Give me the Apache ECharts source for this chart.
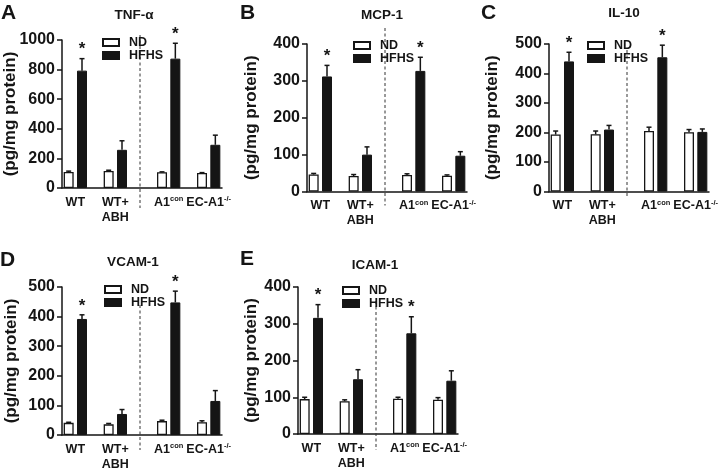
<!DOCTYPE html>
<html><head><meta charset="utf-8">
<script src="https://cdn.jsdelivr.net/npm/echarts@6/dist/echarts.min.js"></script>
<style>html,body{margin:0;padding:0;background:#fff}#c{width:724px;height:473px}</style>
</head><body><div id="c"></div>
<script>
// ---------- data ----------
const groupLabels = ['WT', 'WT+\nABH', 'A1{sup|con}', 'EC-A1{sup|-/-}'];
const seriesNames = ['ND', 'HFHS'];
const panelLetters = ['A', 'B', 'C', 'D', 'E'];
const panelTitles = ['TNF-α', 'MCP-1', 'IL-10', 'VCAM-1', 'ICAM-1'];
const yAxisName = '(pg/mg protein)';
const yMax = [1000, 400, 500, 500, 400];
const yStep = [200, 100, 100, 100, 100];

const tnfND = [108, 115, 106, 101];    const tnfNDErr = [6, 5, 3, 3];
const tnfHFHS = [793, 258, 874, 292];  const tnfHFHSErr = [81, 61, 104, 65];
const mcpND = [46, 42, 45, 43];        const mcpNDErr = [3, 4, 3, 2];
const mcpHFHS = [312, 100, 327, 97];   const mcpHFHSErr = [30, 21, 37, 11];
const il10ND = [193, 194, 205, 201];   const il10NDErr = [12, 11, 13, 9];
const il10HFHS = [441, 210, 455, 202]; const il10HFHSErr = [31, 14, 41, 10];
const vcamND = [41, 36, 47, 43];       const vcamNDErr = [2, 3, 3, 5];
const vcamHFHS = [392, 71, 448, 115];  const vcamHFHSErr = [14, 15, 38, 35];
const icamND = [95, 89, 96, 93];       const icamNDErr = [5, 4, 4, 6];
const icamHFHS = [316, 149, 274, 145]; const icamHFHSErr = [36, 26, 45, 27];
const significant = [true, false, true, false]; // HFHS * per group

const panelData = [
  [tnfND, tnfNDErr, tnfHFHS, tnfHFHSErr],
  [mcpND, mcpNDErr, mcpHFHS, mcpHFHSErr],
  [il10ND, il10NDErr, il10HFHS, il10HFHSErr],
  [vcamND, vcamNDErr, vcamHFHS, vcamHFHSErr],
  [icamND, icamNDErr, icamHFHS, icamHFHSErr]
];

// ---------- layout ----------
const FONT = '"Liberation Sans", Arial, sans-serif';
const INK = '#151515';
const layout = [
  {left: 62,  top: 40,  bottom: 188, title: [134, 15],  letter: [1, 13],   legend: [102, 36], nameGap: 43, sepTop: -5,  sepBottom: 20},
  {left: 307, top: 44,  bottom: 191.5, title: [382, 15], letter: [240, 13], legend: [353, 39], nameGap: 47, sepTop: -16, sepBottom: 14},
  {left: 549, top: 44,  bottom: 191.5, title: [624, 13], letter: [481, 13], legend: [587, 39], nameGap: 48, sepTop: 6,   sepBottom: 7},
  {left: 62,  top: 287, bottom: 435, title: [133, 262], letter: [0, 260],  legend: [104, 283], nameGap: 42, sepTop: 18,  sepBottom: 15},
  {left: 298, top: 287, bottom: 434, title: [375, 265], letter: [240, 259], legend: [342, 284], nameGap: 38, sepTop: 14,  sepBottom: 16}
];
const SLOTS = 12;
function groupStart(g) { return g * 3 + (g >= 2 ? 1 : 0); }
const sepX = 5.85;

const grids = [], xAxes = [], yAxes = [], series = [], legends = [], graphics = [];
const labelAt = {};
groupLabels.forEach((l, g) => { labelAt[groupStart(g) + 1] = l; });

layout.forEach((L, i) => {
  const [nd, ndErr, hf, hfErr] = panelData[i];
  grids.push({left: L.left, top: L.top, width: 160, height: L.bottom - L.top, outerBoundsMode: 'none', containLabel: false});
  xAxes.push({
    type: 'value', gridIndex: i, min: 0, max: SLOTS, interval: 1,
    axisLine: {show: true, onZero: false, lineStyle: {color: INK, width: 1.5}},
    axisTick: {show: false}, splitLine: {show: false},
    axisLabel: {
      margin: 7, fontSize: 12.5, fontWeight: 'bold', fontFamily: FONT, color: INK, lineHeight: 15,
      showMinLabel: true, showMaxLabel: true, hideOverlap: false,
      formatter: v => labelAt[v] || '',
      rich: {sup: {fontSize: 7.5, fontWeight: 'bold', fontFamily: FONT, color: INK, verticalAlign: 'top', lineHeight: 10}}
    }
  });
  yAxes.push({
    type: 'value', gridIndex: i, min: 0, max: yMax[i], interval: yStep[i],
    name: yAxisName, nameLocation: 'middle', nameGap: L.nameGap, nameRotate: 90, nameMoveOverlap: false,
    nameTextStyle: {fontSize: 17, fontWeight: 'bold', fontFamily: FONT, color: INK},
    axisLine: {show: true, lineStyle: {color: INK, width: 1.5}},
    axisTick: {show: true, length: 5, lineStyle: {color: INK, width: 1.5}},
    axisLabel: {margin: 7, fontSize: 16, fontWeight: 'bold', fontFamily: FONT, color: INK, formatter: v => String(v)},
    splitLine: {show: false}
  });
  series.push({
    type: 'bar', name: seriesNames[0], xAxisIndex: i, yAxisIndex: i, barWidth: 10, barGap: '-100%',
    itemStyle: {color: '#ffffff', borderColor: INK, borderWidth: 1.3},
    data: nd.map((v, g) => [groupStart(g) + 0.5, v]), silent: true
  });
  series.push({
    type: 'bar', name: seriesNames[1], xAxisIndex: i, yAxisIndex: i, barWidth: 10, barGap: '-100%',
    itemStyle: {color: INK, borderColor: INK, borderWidth: 1},
    data: hf.map((v, g) => [groupStart(g) + 1.5, v]), silent: true
  });
  const errData = [];
  nd.forEach((v, g) => errData.push([groupStart(g) + 0.5, v, ndErr[g]]));
  hf.forEach((v, g) => errData.push([groupStart(g) + 1.5, v, hfErr[g]]));
  series.push({
    type: 'custom', xAxisIndex: i, yAxisIndex: i, clip: false, silent: true, z: 3,
    data: errData,
    renderItem: (p, api) => {
      const x = api.value(0), m = api.value(1), e = api.value(2);
      const a = api.coord([x, m]), b = api.coord([x, m + e]);
      return {type: 'group', children: [
        {type: 'line', shape: {x1: a[0], y1: a[1], x2: b[0], y2: b[1]}, style: {stroke: INK, lineWidth: 1.5}},
        {type: 'line', shape: {x1: b[0] - 2.5, y1: b[1], x2: b[0] + 2.5, y2: b[1]}, style: {stroke: INK, lineWidth: 1.5}}
      ]};
    }
  });
  const starData = [];
  hf.forEach((v, g) => { if (significant[g]) starData.push([groupStart(g) + 1.5, v + hfErr[g]]); });
  series.push({
    type: 'custom', xAxisIndex: i, yAxisIndex: i, clip: false, silent: true, z: 4,
    data: starData,
    renderItem: (p, api) => {
      const c = api.coord([api.value(0), api.value(1)]);
      return {type: 'text', x: c[0], y: c[1] - 9, style: {text: '*', fill: INK, font: 'bold 17px ' + FONT, align: 'center', verticalAlign: 'middle'}};
    }
  });
  series.push({
    type: 'custom', xAxisIndex: i, yAxisIndex: i, clip: false, silent: true, z: 2,
    data: [[sepX, 0]],
    renderItem: (p, api) => {
      const t = api.coord([sepX, yMax[i]]), b = api.coord([sepX, 0]);
      return {type: 'line', shape: {x1: t[0], y1: t[1] + L.sepTop, x2: b[0], y2: b[1] + L.sepBottom},
        style: {stroke: '#333', lineWidth: 1, lineDash: [3, 2.5]}};
    }
  });
  legends.push({
    left: L.legend[0], top: L.legend[1], orient: 'vertical', padding: 0, itemGap: 0,
    itemWidth: 16, itemHeight: 7, icon: 'rect', selectedMode: false, data: seriesNames,
    textStyle: {fontSize: 12.5, fontWeight: 'bold', fontFamily: FONT, color: INK, lineHeight: 11, padding: [0, 0, 0, 5]}
  });
  graphics.push({type: 'text', x: L.title[0], y: L.title[1], style: {text: panelTitles[i], fill: INK, font: 'bold 13.5px ' + FONT, align: 'center', verticalAlign: 'middle'}});
  graphics.push({type: 'text', x: L.letter[0], y: L.letter[1], style: {text: panelLetters[i], fill: INK, font: 'bold 21px ' + FONT, align: 'left', verticalAlign: 'middle'}});
});

const chart = echarts.init(document.getElementById('c'), null, {renderer: 'canvas'});
chart.setOption({
  backgroundColor: '#ffffff',
  animation: false,
  grid: grids, xAxis: xAxes, yAxis: yAxes, series: series, legend: legends,
  graphic: graphics
});
</script>
</body></html>
